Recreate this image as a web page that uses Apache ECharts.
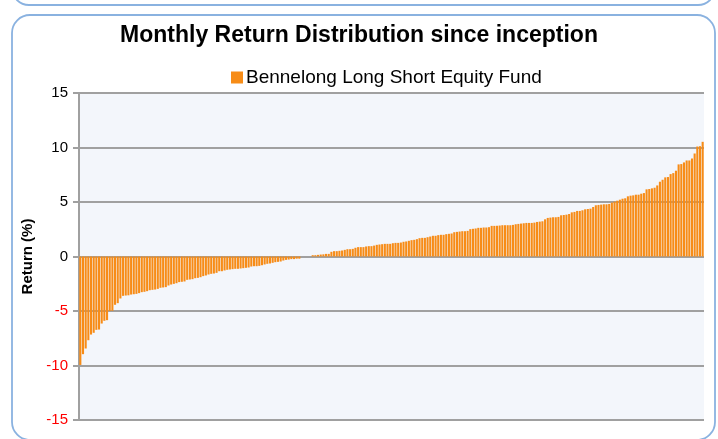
<!DOCTYPE html>
<html>
<head>
<meta charset="utf-8">
<script src="https://cdn.jsdelivr.net/npm/echarts@6/dist/echarts.min.js"></script>
<style>
html,body{margin:0;padding:0;background:#fff;}
#chart{width:718px;height:439px;}
</style>
</head>
<body>
<div id="chart"></div>
<script>
var titleText = 'Monthly Return Distribution since inception';
var seriesName = 'Bennelong Long Short Equity Fund';
var yAxisName = 'Return (%)';
var yTicks = [-15, -10, -5, 0, 5, 10, 15];

var returns = [
 -9.95, -8.96, -8.44, -7.68, -7.16, -7.0, -6.73, -6.7, -6.15, -5.9,
 -5.84, -5.0, -4.98, -4.43, -4.28, -3.85, -3.61, -3.58, -3.56, -3.49,
 -3.46, -3.43, -3.36, -3.27, -3.24, -3.18, -3.09, -3.06, -3.03, -2.97,
 -2.87, -2.84, -2.81, -2.66, -2.57, -2.51, -2.45, -2.35, -2.32,
 -2.29, -2.14, -2.11, -2.08, -1.99, -1.96, -1.90, -1.80, -1.74, -1.65,
 -1.59, -1.56, -1.50, -1.35, -1.35, -1.28, -1.22, -1.19, -1.16, -1.13,
 -1.13, -1.10, -1.07, -1.04, -1.01, -0.92, -0.89, -0.89, -0.86, -0.80,
 -0.73, -0.67, -0.64, -0.58, -0.52, -0.49, -0.46, -0.37, -0.31,
 -0.28, -0.24, -0.24, -0.2, -0.2, 0, 0, 0, 0, 0.12,
 0.12, 0.15, 0.18, 0.2, 0.24, 0.24, 0.43, 0.49, 0.49, 0.52,
 0.55, 0.61, 0.67, 0.67, 0.7, 0.8, 0.86, 0.86, 0.86, 0.92,
 0.95, 0.95, 1.0, 1.07, 1.1, 1.13, 1.16, 1.16, 1.16,
 1.22, 1.25, 1.25, 1.28, 1.35, 1.38, 1.44, 1.5, 1.53, 1.59,
 1.68, 1.71, 1.71, 1.77, 1.83, 1.9, 1.9, 1.96, 1.99, 1.99,
 2.05, 2.08, 2.11, 2.23, 2.26, 2.29, 2.32, 2.32, 2.35, 2.51,
 2.54, 2.57, 2.63, 2.63, 2.66, 2.66, 2.69, 2.81, 2.81,
 2.82, 2.84, 2.87, 2.87, 2.87, 2.87, 2.9, 2.96, 2.99, 3.02,
 3.05, 3.08, 3.08, 3.08, 3.11, 3.17, 3.2, 3.23, 3.41, 3.54,
 3.57, 3.6, 3.6, 3.63, 3.78, 3.81, 3.84, 3.9, 4.05, 4.09,
 4.18, 4.18, 4.24, 4.33, 4.36, 4.39, 4.54, 4.7, 4.73,
 4.76, 4.79, 4.79, 4.82, 4.94, 5.03, 5.12, 5.21, 5.3, 5.34,
 5.52, 5.58, 5.61, 5.67, 5.67, 5.76, 5.82, 6.16, 6.19, 6.25,
 6.31, 6.52, 6.86, 7.04, 7.26, 7.29, 7.56, 7.65, 7.87, 8.45,
 8.48, 8.63, 8.81, 8.81, 8.99, 9.45, 10.09, 10.12, 10.52
];
var categories = returns.map(function (v, i) { return String(i + 1); });

var chart = echarts.init(document.getElementById('chart'), null, {renderer: 'canvas'});
var FONT = '"Liberation Sans", Arial, sans-serif';
var option = {
  backgroundColor: '#ffffff',
  animation: false,
  title: {
    text: titleText,
    left: 'center',
    top: 19,
    textStyle: {fontFamily: FONT, fontSize: 23, fontWeight: 'bold', color: '#000'}
  },
  legend: {
    data: [seriesName],
    left: 226,
    top: 63,
    itemWidth: 12,
    itemHeight: 12,
    itemGap: 4,
    icon: 'rect',
    textStyle: {fontFamily: FONT, fontSize: 19, color: '#000', padding: [0, 0, 0, -2]}
  },
  grid: {
    left: 79, right: 14, top: 93, bottom: 19,
    show: true, backgroundColor: '#f3f6fb', borderWidth: 0,
    containLabel: false
  },
  xAxis: {
    type: 'category',
    data: categories,
    axisLine: {show: false},
    axisTick: {show: false},
    axisLabel: {show: false},
    splitLine: {show: false}
  },
  yAxis: {
    type: 'value',
    min: yTicks[0], max: yTicks[yTicks.length - 1], interval: 5,
    name: yAxisName,
    nameLocation: 'middle',
    nameRotate: 90,
    nameGap: 39,
    nameTextStyle: {fontFamily: FONT, fontSize: 15, fontWeight: 'bold', color: '#000'},
    axisLine: {show: true, lineStyle: {color: '#a0a0a0', width: 2}},
    axisTick: {show: true, inside: false, length: 6, lineStyle: {color: '#a0a0a0', width: 2}},
    axisLabel: {
      fontFamily: FONT, fontSize: 15, margin: 11,
      color: function (v) { return Number(v) < 0 ? '#ff0000' : '#000000'; }
    },
    splitLine: {show: true, lineStyle: {color: '#a0a0a0', width: 2}}
  },
  series: [{
    name: seriesName,
    type: 'bar',
    data: returns,
    barCategoryGap: '22%',
    itemStyle: {color: '#f78c17'}
  }],
  graphic: [
    {type: 'rect', shape: {x: 12, y: -60, width: 703, height: 65, r: 17}, style: {fill: 'none', stroke: '#8ab2e0', lineWidth: 1.8}, silent: true, z: 100},
    {type: 'rect', shape: {x: 12, y: 15, width: 703, height: 425, r: 18}, style: {fill: 'none', stroke: '#8ab2e0', lineWidth: 1.8}, silent: true, z: 100}
  ]
};
chart.setOption(option);
</script>
</body>
</html>
